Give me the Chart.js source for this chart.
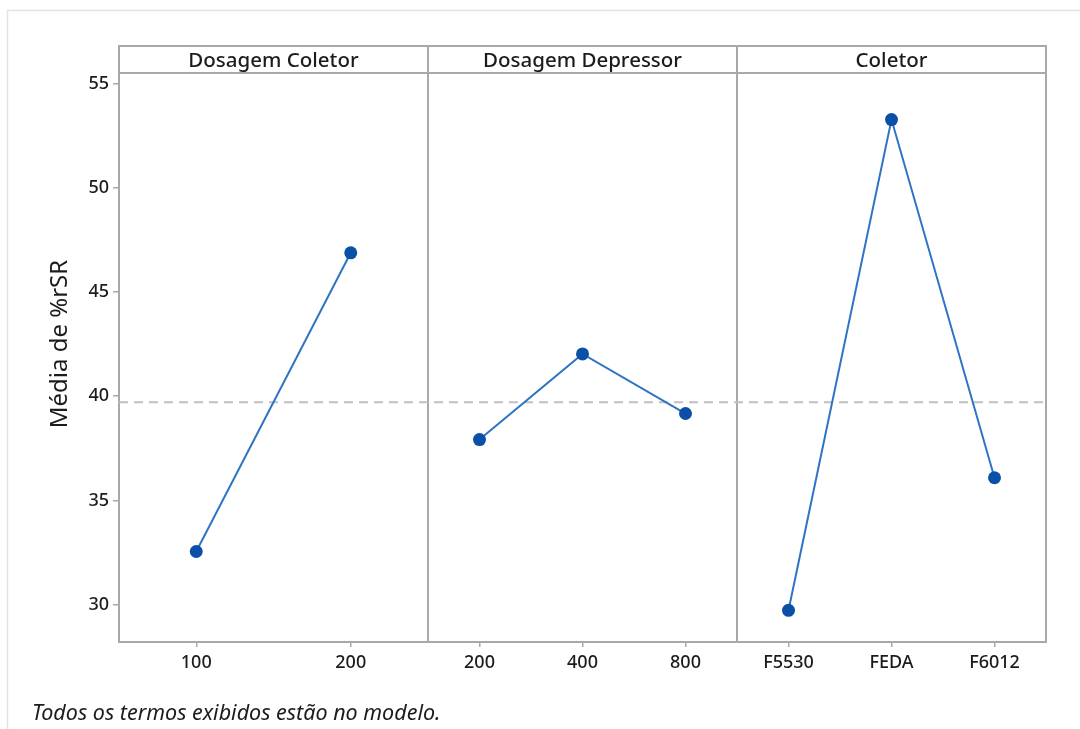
<!DOCTYPE html>
<html>
<head>
<meta charset="utf-8">
<script src="https://cdn.jsdelivr.net/npm/chart.js@4.4.1/dist/chart.umd.min.js"></script>
<style>
  html, body { margin: 0; padding: 0; background: #ffffff; }
  #wrap { width: 1080px; height: 729px; position: relative; }
</style>
</head>
<body>
<div id="wrap"><canvas id="c" width="1080" height="729"></canvas></div>
<script>
// Main effects plot: mean %rSR per factor level
const panelTitles = ['Dosagem Coletor', 'Dosagem Depressor', 'Coletor'];
const coletorDoseLevels = ['100', '200'];
const coletorDoseMeans = [32.55, 46.88];
const depressorDoseLevels = ['200', '400', '800'];
const depressorDoseMeans = [37.92, 42.03, 39.17];
const coletorLevels = ['F5530', 'FEDA', 'F6012'];
const coletorMeans = [29.73, 53.27, 36.09];
const overallMean = 39.71;
const yTicks = [30, 35, 40, 45, 50, 55];
const yTitle = 'Média de %rSR';
const footnote = 'Todos os termos exibidos estão no modelo.';

const FONT = "'Noto Sans', 'Open Sans', sans-serif";
const FRAME = '#a9a9a9';
const LINE_BLUE = '#2f74c4';
const POINT_BLUE = '#0a50a8';
const TEXT = '#1c1c1c';

// Each panel occupies one unit of the shared x axis; levels are centred inside it
const panels = [
  { levels: coletorDoseLevels, means: coletorDoseMeans },
  { levels: depressorDoseLevels, means: depressorDoseMeans },
  { levels: coletorLevels, means: coletorMeans }
];
const xTickPositions = [];
const xTickLabels = [];
const datasets = panels.map((p, pi) => {
  const n = p.levels.length;
  const pts = p.means.map((m, i) => {
    const x = pi + (i + 0.5) / n;
    xTickPositions.push(x);
    xTickLabels.push(p.levels[i]);
    return { x: x, y: m };
  });
  return {
    data: pts,
    borderColor: LINE_BLUE,
    borderWidth: 2,
    pointRadius: 6.5,
    pointBackgroundColor: POINT_BLUE,
    pointBorderColor: POINT_BLUE,
    pointBorderWidth: 0,
    tension: 0
  };
});
// Grand mean reference line across all panels
datasets.push({
  data: [{ x: 0, y: overallMean }, { x: panels.length, y: overallMean }],
  borderColor: '#c0c0c0',
  borderWidth: 2,
  borderDash: [9, 6],
  pointRadius: 0
});

const panelFrame = {
  id: 'panelFrame',
  beforeDatasetsDraw(chart) {
    const { ctx, chartArea: a, scales: { x } } = chart;
    ctx.save();
    // light outer frame
    ctx.strokeStyle = '#e2e2e2';
    ctx.lineWidth = 1.5;
    ctx.beginPath();
    ctx.moveTo(7.5, 729);
    ctx.lineTo(7.5, 10.5);
    ctx.lineTo(1080, 10.5);
    ctx.stroke();

    const headerBottom = a.top + 27;
    ctx.strokeStyle = FRAME;
    ctx.lineWidth = 2;
    ctx.strokeRect(a.left, a.top, a.right - a.left, a.bottom - a.top);
    ctx.beginPath();
    ctx.moveTo(a.left, headerBottom);
    ctx.lineTo(a.right, headerBottom);
    for (let i = 1; i < panels.length; i++) {
      const px = Math.round(x.getPixelForValue(i));
      ctx.moveTo(px, a.top);
      ctx.lineTo(px, a.bottom);
    }
    ctx.stroke();

    ctx.fillStyle = TEXT;
    ctx.font = '500 20.5px ' + FONT;
    ctx.textAlign = 'center';
    ctx.textBaseline = 'middle';
    panelTitles.forEach((t, i) => {
      const cx = (x.getPixelForValue(i) + x.getPixelForValue(i + 1)) / 2;
      ctx.fillText(t, cx, (a.top + headerBottom) / 2 + 2);
    });
    ctx.restore();
  },
  afterDraw(chart) {
    const { ctx } = chart;
    ctx.save();
    ctx.fillStyle = TEXT;
    ctx.font = 'italic 21.5px ' + FONT;
    ctx.textAlign = 'left';
    ctx.textBaseline = 'middle';
    ctx.fillText(footnote, 32, 714);
    ctx.restore();
  }
};

new Chart(document.getElementById('c'), {
  type: 'line',
  data: { datasets: datasets },
  plugins: [panelFrame],
  options: {
    responsive: false,
    animation: false,
    layout: { padding: { left: 0, right: 34, top: 46, bottom: 0 } },
    plugins: { legend: { display: false }, tooltip: { enabled: false } },
    scales: {
      x: {
        type: 'linear',
        min: 0,
        max: panels.length,
        afterFit(s) { s.height = 87; },
        afterBuildTicks(s) { s.ticks = xTickPositions.map(v => ({ value: v })); },
        grid: { drawOnChartArea: false, drawTicks: true, tickLength: 5, color: FRAME, lineWidth: 1.5 },
        border: { display: false },
        ticks: {
          autoSkip: false,
          maxRotation: 0,
          padding: 5,
          color: TEXT,
          font: { family: FONT, size: 18, weight: '500' },
          callback: (v, i) => xTickLabels[i]
        }
      },
      y: {
        type: 'linear',
        min: 28.21,
        max: 56.8,
        afterFit(s) { s.width = 119; },
        afterBuildTicks(s) { s.ticks = yTicks.map(v => ({ value: v })); },
        grid: { drawOnChartArea: false, drawTicks: true, tickLength: 6, color: FRAME, lineWidth: 1.5 },
        border: { display: false },
        ticks: {
          padding: 4,
          color: TEXT,
          font: { family: FONT, size: 18, weight: '500' }
        },
        title: {
          display: true,
          text: yTitle,
          color: TEXT,
          font: { family: FONT, size: 24 },
          padding: { top: 46, bottom: 0 }
        }
      }
    }
  }
});
</script>
</body>
</html>
